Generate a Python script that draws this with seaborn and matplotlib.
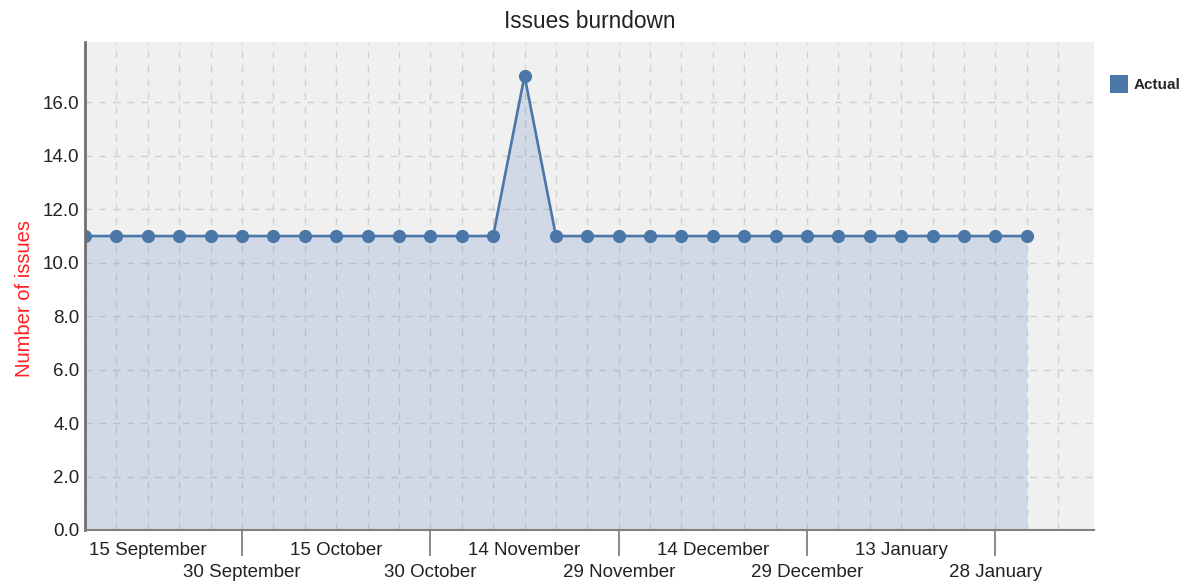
import matplotlib
matplotlib.use("Agg")
import matplotlib.pyplot as plt
from matplotlib.lines import Line2D
from matplotlib.ticker import FixedLocator, FormatStrFormatter
import matplotlib.dates as mdates
import seaborn as sns
import pandas as pd

# Snapshot dates (every 5 days) and open issue counts
dates = ["2013-09-05", "2013-09-10", "2013-09-15", "2013-09-20", "2013-09-25",
         "2013-09-30", "2013-10-05", "2013-10-10", "2013-10-15", "2013-10-20",
         "2013-10-25", "2013-10-30", "2013-11-04", "2013-11-09", "2013-11-14",
         "2013-11-19", "2013-11-24", "2013-11-29", "2013-12-04", "2013-12-09",
         "2013-12-14", "2013-12-19", "2013-12-24", "2013-12-29", "2014-01-03",
         "2014-01-08", "2014-01-13", "2014-01-18", "2014-01-23", "2014-01-28",
         "2014-02-02"]
actual = [11, 11, 11, 11, 11, 11, 11, 11, 11, 11, 11, 11, 11, 11, 17,
          11, 11, 11, 11, 11, 11, 11, 11, 11, 11, 11, 11, 11, 11, 11, 11]
tick_labels = ["15 September", "30 September", "15 October", "30 October",
               "14 November", "29 November", "14 December", "29 December",
               "13 January", "28 January"]
tick_dates = ["2013-09-15", "2013-09-30", "2013-10-15", "2013-10-30",
              "2013-11-14", "2013-11-29", "2013-12-14", "2013-12-29",
              "2014-01-13", "2014-01-28"]
grid_dates = dates + ["2014-02-07"]
y_ticks = [0, 2, 4, 6, 8, 10, 12, 14, 16]

df = pd.DataFrame({"date": pd.to_datetime(dates), "Actual": actual})

sns.set_theme(style="white")
plt.rcParams["font.family"] = ["Liberation Sans", "DejaVu Sans"]

LINE = "#4a76a8"
BG = "#f0f0f0"
GRID = "#d0d0d0"
TXT = "#222222"

fig = plt.figure(figsize=(11.96, 5.86), dpi=100)
ax = fig.add_axes([0.0711, 0.0956, 0.8436, 0.8327])
ax.set_facecolor(BG)

ax.fill_between(df["date"], df["Actual"], 0, color="#4a7ab8", alpha=0.19,
                zorder=2, linewidth=0)
sns.lineplot(data=df, x="date", y="Actual", ax=ax, color=LINE, linewidth=1.9,
             marker="o", markersize=9.5, markeredgewidth=0, zorder=3)

x0 = pd.Timestamp("2013-09-05")
ax.set_xlim(x0, x0 + pd.Timedelta(days=160.7))
ax.set_ylim(0, 18.26)

# y axis
ax.yaxis.set_major_locator(FixedLocator(y_ticks))
ax.yaxis.set_major_formatter(FormatStrFormatter("%.1f"))
ax.tick_params(axis="y", left=False, length=0, pad=4, labelsize=13.5, labelcolor=TXT)

# x axis: staggered date labels over a 5-day grid
ax.set_xticks(pd.to_datetime(tick_dates))
ax.set_xticklabels(tick_labels)
ax.xaxis.set_minor_locator(FixedLocator(mdates.date2num(pd.to_datetime(grid_dates))))
ax.tick_params(axis="x", which="minor", bottom=False, length=0)
ax.tick_params(axis="x", which="major", bottom=True, labelsize=13.5, labelcolor=TXT,
               color="#808080", width=1.3, length=0, direction="out")

ax.grid(True, which="both", color=GRID, linestyle=(0, (5, 5)), linewidth=1)
ax.set_axisbelow(True)

# upper row: no tick mark; lower row: long tick mark reaching down to the label
for i, t in enumerate(ax.xaxis.get_major_ticks()):
    if i % 2 == 0:
        t.set_pad(8.3)
        t.tick1line.set_markersize(0)
    else:
        t.set_pad(24.8)
        t.tick1line.set_markersize(18.7)
        t.tick1line.set_markeredgewidth(1.3)

for s in ("top", "right"):
    ax.spines[s].set_visible(False)
ax.spines["left"].set_color("#707070")
ax.spines["left"].set_linewidth(2)
ax.spines["bottom"].set_color("#808080")
ax.spines["bottom"].set_linewidth(1.5)
ax.spines["left"].set_zorder(4)
ax.spines["bottom"].set_zorder(4)

ax.set_xlabel("")
ax.set_ylabel("Number of issues", color="#ff2020", fontsize=14.5, labelpad=8)
ax.yaxis.set_label_coords(-0.051, 0.475)
ax.set_title("Issues burndown", fontsize=16.3, color=TXT, pad=10)

handle = Line2D([], [], linestyle="none", marker="s", markersize=12.5,
                markerfacecolor=LINE, markeredgewidth=0)
ax.legend([handle], ["Actual"], loc="upper left", bbox_to_anchor=(1.017, 0.926),
          frameon=False, prop={"weight": "bold", "size": 11}, handletextpad=0.5,
          handlelength=1.0, borderaxespad=0, borderpad=0)

fig.savefig("out.png", dpi=100)
